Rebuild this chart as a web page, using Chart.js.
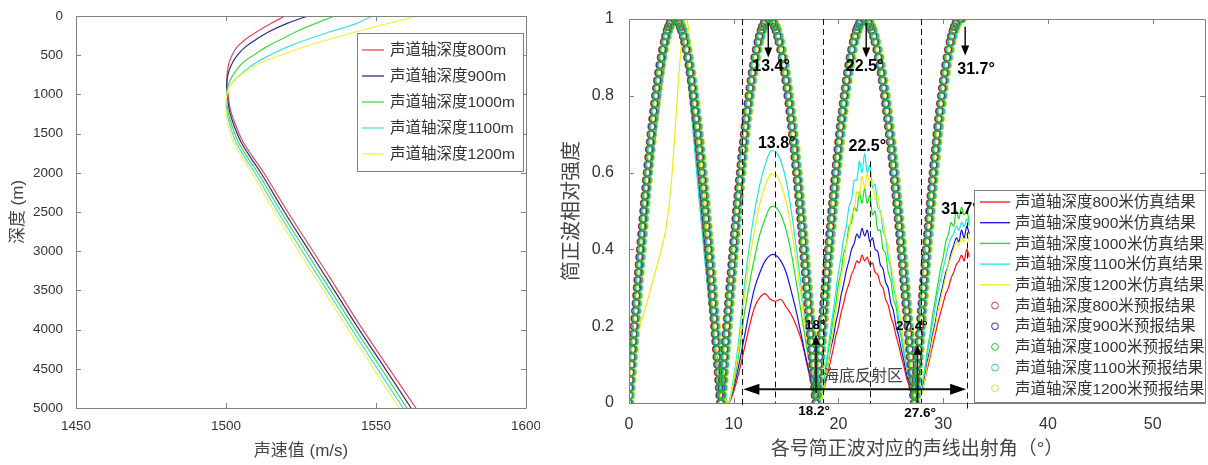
<!DOCTYPE html>
<html>
<head>
<meta charset="utf-8">
<script src="https://cdn.jsdelivr.net/npm/chart.js@4.4.1/dist/chart.umd.min.js"></script>
<style>
  html, body { margin: 0; padding: 0; background: #fff; }
  #wrap { position: relative; width: 1208px; height: 465px; overflow: hidden; }
  #profileChart { position: absolute; left: 0; top: 0; width: 540px; height: 465px; }
  #modeChart { position: absolute; left: 540px; top: 0; width: 668px; height: 465px; }
</style>
</head>
<body>
<div id="wrap">
  <canvas id="profileChart" width="540" height="465"></canvas>
  <canvas id="modeChart" width="668" height="465"></canvas>
</div>
<script>
// ---- left panel: sound speed profiles ----
const axisDepths = [800, 900, 1000, 1100, 1200];
const depthLevels = [0, 100, 200, 300, 400, 500, 600, 700, 800, 900, 1000, 1200, 1400, 1600, 1800, 2000, 2500, 3000, 3500, 4000, 4500, 5000];
const speed800 = [1519.7, 1514.8, 1510.3, 1506.4, 1503.6, 1502.0, 1501.0, 1500.5, 1500.3, 1500.4, 1500.7, 1501.5, 1503.3, 1505.6, 1509.0, 1512.6, 1520.6, 1529.0, 1537.3, 1545.6, 1554.4, 1563.3];
const speed900 = [1527.3, 1520.0, 1514.3, 1510.0, 1506.3, 1503.8, 1502.1, 1501.0, 1500.4, 1500.2, 1500.4, 1501.1, 1502.7, 1504.9, 1508.1, 1511.6, 1519.5, 1527.8, 1536.1, 1544.4, 1553.1, 1561.7];
const speed1000 = [1536.3, 1529.5, 1523.4, 1518.3, 1513.2, 1509.2, 1505.5, 1503.3, 1501.6, 1500.6, 1500.2, 1500.6, 1502.0, 1504.0, 1507.1, 1510.6, 1518.4, 1526.6, 1534.9, 1543.2, 1551.8, 1560.3];
const speed1100 = [1548.8, 1543.2, 1534.8, 1527.0, 1520.2, 1514.6, 1509.8, 1506.2, 1503.3, 1501.1, 1500.3, 1500.2, 1501.4, 1503.2, 1506.2, 1509.6, 1517.3, 1525.4, 1533.7, 1542.0, 1550.5, 1559.0];
const speed1200 = [1564.0, 1553.5, 1543.7, 1534.2, 1525.6, 1518.2, 1511.5, 1506.8, 1503.5, 1501.2, 1500.3, 1500.0, 1500.8, 1502.4, 1505.3, 1508.6, 1516.2, 1524.2, 1532.5, 1540.8, 1549.2, 1557.7];
const speedTicks = [1450, 1500, 1550, 1600];
const depthTicks = [0, 500, 1000, 1500, 2000, 2500, 3000, 3500, 4000, 4500, 5000];

// ---- right panel: normal mode intensity vs launch angle ----
const simAngles = [1, 1.5, 2, 2.5, 3, 3.5, 4, 4.5, 5, 5.5, 6, 6.5, 7, 7.5, 8, 8.5, 9, 9.5,
  10, 10.5, 11, 11.5, 12, 12.5, 13, 13.5, 14, 14.5, 15, 15.5, 16, 16.5, 17, 17.5, 18,
  18.25, 18.5, 18.75, 19, 19.25, 19.5, 19.75, 20, 20.25, 20.5, 20.75, 21, 21.25, 21.5, 21.75, 22, 22.25, 22.5, 22.75,
  23, 23.25, 23.5, 23.75, 24, 24.25, 24.5, 24.75, 25, 25.25, 25.5, 25.75, 26, 26.25, 26.5, 26.75, 27, 27.25, 27.5,
  27.75, 28, 28.25, 28.5, 28.75, 29, 29.25, 29.5, 29.75, 30, 30.25, 30.5, 30.75, 31, 31.25, 31.5, 31.75, 32, 32.25, 32.5];
const sim800 = [.3, .44, .57, .69, .8, .9, .97, 1, .97, .89, .77, .62, .47, .33, .2, .1, .03, 0,
  .03, .08, .14, .2, .25, .275, .285, .27, .265, .27, .25, .23, .2, .16, .1, .04, .01,
  0, .02, .05, .08, .11, .14, .175, .2, .235, .26, .29, .31, .335, .35, .37, .365, .385, .37, .38,
  .36, .365, .34, .335, .31, .3, .27, .255, .225, .205, .175, .15, .12, .095, .065, .045, .02, .01, 0,
  .01, .03, .06, .09, .12, .15, .18, .21, .235, .26, .285, .3, .325, .34, .36, .37, .385, .37, .4, .38];
const sim900 = [.3, .45, .58, .7, .81, .91, .97, 1, .97, .88, .76, .61, .46, .32, .19, .09, .03, 0,
  .04, .1, .17, .24, .3, .34, .37, .385, .385, .37, .34, .29, .235, .17, .105, .05, .01,
  0, .03, .06, .1, .14, .17, .21, .24, .28, .31, .345, .37, .4, .415, .44, .43, .455, .435, .45,
  .42, .43, .4, .395, .36, .35, .315, .3, .26, .24, .2, .175, .14, .11, .075, .05, .025, .01, 0,
  .01, .04, .07, .11, .14, .18, .21, .25, .28, .31, .34, .36, .39, .41, .43, .42, .45, .43, .46, .44];
const sim1000 = [.31, .46, .6, .72, .83, .92, .98, 1, .97, .88, .75, .6, .45, .31, .19, .09, .03, 0,
  .05, .13, .23, .31, .38, .44, .48, .51, .51, .49, .45, .39, .31, .225, .14, .07, .015,
  0, .04, .08, .13, .17, .22, .26, .31, .34, .39, .41, .46, .47, .51, .5, .55, .52, .56, .52,
  .54, .49, .5, .45, .45, .4, .39, .34, .32, .27, .25, .2, .17, .13, .1, .06, .035, .01, 0,
  .02, .05, .09, .14, .18, .23, .27, .31, .35, .38, .42, .44, .47, .46, .5, .48, .51, .49, .5, .47];
const sim1100 = [.32, .47, .61, .73, .84, .93, .98, 1, .96, .87, .74, .59, .44, .3, .18, .08, .02, 0,
  .07, .17, .3, .41, .5, .57, .62, .655, .655, .63, .58, .5, .4, .29, .18, .09, .02,
  0, .04, .09, .14, .19, .24, .29, .34, .38, .43, .46, .51, .53, .58, .58, .63, .6, .65, .6,
  .62, .56, .57, .51, .5, .45, .43, .38, .35, .3, .27, .22, .18, .14, .1, .065, .035, .01, 0,
  .02, .05, .09, .13, .17, .21, .25, .29, .32, .35, .38, .41, .43, .44, .46, .45, .47, .46, .48, .46];
const sim1200 = [.2, .24, .29, .34, .39, .45, .56, .75, .93, 1, .9, .79, .62, .42, .22, .08, .02, 0,
  .06, .15, .27, .37, .45, .52, .565, .595, .595, .57, .525, .455, .365, .265, .165, .08, .02,
  0, .02, .06, .1, .15, .19, .24, .28, .33, .36, .41, .44, .49, .5, .55, .54, .59, .56, .6,
  .56, .58, .53, .54, .49, .48, .43, .41, .36, .33, .28, .25, .2, .16, .12, .08, .045, .015, 0,
  .01, .03, .06, .1, .13, .17, .2, .24, .27, .3, .33, .36, .38, .4, .42, .41, .43, .42, .44, .42];

// forecast circles: angles read along each flank (rise / fall), levels shared by the flanks
const forecastAngles = [0,
  0.06, 0.11, 0.17, 0.22, 0.28, 0.34, 0.39, 0.45, 0.51, 0.56, 0.62, 0.68, 0.74, 0.8, 0.85, 0.91, 0.97, 1.03, 1.09, 1.15,
  1.21, 1.28, 1.34, 1.4, 1.47, 1.53, 1.6, 1.67, 1.73, 1.8, 1.87, 1.95, 2.02, 2.1, 2.17, 2.25, 2.33, 2.42, 2.51, 2.6,
  2.69, 2.79, 2.9, 3.01, 3.14, 3.27, 3.43, 3.56, 3.71, 3.84, 4.0, 4.4,
  4.8, 4.96, 5.09, 5.25, 5.38, 5.53, 5.66, 5.79, 5.9, 6.01, 6.11, 6.2, 6.29, 6.38, 6.47, 6.55, 6.63, 6.71, 6.78, 6.86,
  6.93, 7.0, 7.07, 7.14, 7.2, 7.27, 7.33, 7.4, 7.46, 7.52, 7.59, 7.65, 7.71, 7.77, 7.83, 7.89, 7.95, 8.0, 8.06, 8.12,
  8.18, 8.24, 8.29, 8.35, 8.41, 8.46, 8.52, 8.58, 8.63, 8.69, 8.74, 8.8,
  8.86, 8.92, 8.98, 9.04, 9.09, 9.15, 9.21, 9.27, 9.33, 9.39, 9.45, 9.51, 9.57, 9.63, 9.69, 9.75, 9.82, 9.88, 9.94, 10.01,
  10.07, 10.13, 10.2, 10.27, 10.33, 10.4, 10.47, 10.54, 10.61, 10.69, 10.76, 10.83, 10.91, 10.99, 11.07, 11.15, 11.24, 11.33, 11.42, 11.52,
  11.62, 11.72, 11.83, 11.95, 12.08, 12.22, 12.38, 12.52, 12.68, 12.81, 12.99, 13.4,
  13.8, 13.97, 14.1, 14.26, 14.4, 14.55, 14.69, 14.82, 14.93, 15.04, 15.15, 15.24, 15.34, 15.43, 15.51, 15.6, 15.68, 15.76, 15.84, 15.91,
  15.98, 16.06, 16.13, 16.2, 16.27, 16.33, 16.4, 16.47, 16.53, 16.6, 16.66, 16.72, 16.78, 16.85, 16.91, 16.97, 17.03, 17.09, 17.15, 17.21,
  17.27, 17.32, 17.38, 17.44, 17.5, 17.56, 17.61, 17.67, 17.73, 17.79, 17.84, 17.9,
  17.96, 18.02, 18.08, 18.14, 18.19, 18.25, 18.31, 18.37, 18.43, 18.49, 18.55, 18.61, 18.67, 18.73, 18.79, 18.85, 18.92, 18.98, 19.04, 19.11,
  19.17, 19.23, 19.3, 19.37, 19.43, 19.5, 19.57, 19.64, 19.71, 19.79, 19.86, 19.93, 20.01, 20.09, 20.17, 20.25, 20.34, 20.43, 20.52, 20.62,
  20.72, 20.82, 20.93, 21.05, 21.18, 21.32, 21.48, 21.62, 21.78, 21.91, 22.09, 22.5,
  22.93, 23.11, 23.25, 23.42, 23.56, 23.73, 23.88, 24.01, 24.14, 24.25, 24.36, 24.47, 24.57, 24.66, 24.76, 24.84, 24.93, 25.02, 25.1, 25.18,
  25.26, 25.33, 25.41, 25.48, 25.56, 25.63, 25.7, 25.77, 25.84, 25.91, 25.98, 26.04, 26.11, 26.18, 26.24, 26.3, 26.37, 26.43, 26.5, 26.56,
  26.62, 26.69, 26.75, 26.81, 26.87, 26.93, 26.99, 27.06, 27.12, 27.18, 27.24, 27.3,
  27.36, 27.41, 27.47, 27.52, 27.58, 27.64, 27.69, 27.75, 27.81, 27.86, 27.92, 27.98, 28.04, 28.1, 28.15, 28.21, 28.27, 28.33, 28.39, 28.45,
  28.51, 28.58, 28.64, 28.7, 28.77, 28.83, 28.9, 28.97, 29.03, 29.1, 29.17, 29.25, 29.32, 29.4, 29.47, 29.55, 29.63, 29.72, 29.81, 29.9,
  29.99, 30.09, 30.2, 30.31, 30.44, 30.57, 30.73, 30.86, 31.01, 31.14, 31.3, 31.7];
const riseLevels = [.02, .04, .06, .08, .1, .12, .14, .16, .18, .2, .22, .24, .26, .28, .3, .32, .34, .36, .38, .4,
  .42, .44, .46, .48, .5, .52, .54, .56, .58, .6, .62, .64, .66, .68, .7, .72, .74, .76, .78, .8,
  .82, .84, .86, .88, .9, .92, .94, .955, .97, .98, .99, 1];
const fallLevels = [.99, .98, .97, .955, .94, .92, .9, .88, .86, .84, .82, .8, .78, .76, .74, .72, .7, .68, .66, .64,
  .62, .6, .58, .56, .54, .52, .5, .48, .46, .44, .42, .4, .38, .36, .34, .32, .3, .28, .26, .24,
  .22, .2, .18, .16, .14, .12, .1, .08, .06, .04, .02, 0];
const forecastShift = [-0.12, -0.06, 0.02, 0.1, 0.18];
const angleTicks = [0, 10, 20, 30, 40, 50];
const levelTicks = [0, 0.2, 0.4, 0.6, 0.8, 1];

// annotation marks on the right panel (angle, level)
const dashMarks = [[10.75, 1, -0.012], [18.5, 1, 0], [27.85, 1, 0], [32.25, 0.47, -0.015], [13.92, 0.655, 0], [23.0, 0.63, 0]];
const downArrows = [[13.3, 0.99, 0.9], [22.65, 0.99, 0.9], [32.1, 0.98, 0.905]];
const upArrows = [[17.86, 0.026, 0.178], [27.55, 0.0, 0.152]];
const angleNotes = [
  ['13.4°', 13.56, 0.875, 16], ['22.5°', 22.5, 0.875, 16], ['31.7°', 33.14, 0.867, 16],
  ['13.8°', 14.1, 0.676, 16], ['22.5°', 22.75, 0.668, 16], ['31.7°', 31.6, 0.503, 16],
  ['18°', 17.77, 0.203, 13.5], ['27.4°', 27.0, 0.199, 13.5], ['18.2°', 17.67, -0.021, 13.5], ['27.6°', 27.8, -0.027, 13.5]
];
const seabedSpan = [10.92, 32.19, 0.036];

const profileColors = ['#e4485a', '#2b2b8c', '#4cd64c', '#45dede', '#f2f24a'];
const lineColors = ['#ff1010', '#1414e0', '#1ee01e', '#1ee6e6', '#ecec14'];
const circleColors = ['#d83838', '#30309c', '#30bc30', '#30c4c4', '#e0e040'];
const circleOrder = [3, 1, 0, 2, 4];
const frameColor = '#808080';
const latin = '"Liberation Sans", Arial, sans-serif';
const cjk = '"Liberation Sans", "Noto Sans CJK SC", sans-serif';

// MATLAB-style box with inward ticks on all four sides
function framePlugin(tickLen) {
  return {
    id: 'frame',
    afterDatasetsDraw(chart) {
      const {ctx, chartArea: a, scales: {x, y}} = chart;
      ctx.save();
      ctx.strokeStyle = frameColor;
      ctx.lineWidth = 1;
      ctx.beginPath();
      ctx.rect(Math.round(a.left) + 0.5, Math.round(a.top) + 0.5, Math.round(a.right - a.left), Math.round(a.bottom - a.top));
      x.ticks.forEach(t => {
        const px = Math.round(x.getPixelForValue(t.value)) + 0.5;
        ctx.moveTo(px, a.bottom); ctx.lineTo(px, a.bottom - tickLen);
        ctx.moveTo(px, a.top); ctx.lineTo(px, a.top + tickLen);
      });
      y.ticks.forEach(t => {
        const py = Math.round(y.getPixelForValue(t.value)) + 0.5;
        ctx.moveTo(a.left, py); ctx.lineTo(a.left + tickLen, py);
        ctx.moveTo(a.right, py); ctx.lineTo(a.right - tickLen, py);
      });
      ctx.stroke();
      ctx.restore();
    }
  };
}

// legend in a framed box, drawn at fixed spots
const boxLegend = {
  id: 'boxLegend',
  afterDraw(chart, args, o) {
    const ctx = chart.ctx;
    ctx.save();
    ctx.fillStyle = '#fff';
    ctx.fillRect(o.left, o.top, o.width, o.height);
    ctx.strokeStyle = frameColor;
    ctx.lineWidth = 1;
    ctx.strokeRect(o.left + 0.5, o.top + 0.5, o.width, o.height);
    ctx.font = o.font;
    ctx.textBaseline = 'middle';
    chart.data.datasets.forEach((ds, i) => {
      const yy = o.rowTop + i * o.rowStep;
      if (ds.showLine) {
        ctx.strokeStyle = ds.borderColor;
        ctx.lineWidth = 1.3;
        ctx.beginPath();
        ctx.moveTo(o.sampleX0, yy); ctx.lineTo(o.sampleX1, yy);
        ctx.stroke();
      } else {
        ctx.strokeStyle = ds.pointBorderColor;
        ctx.lineWidth = 1;
        ctx.beginPath();
        ctx.arc((o.sampleX0 + o.sampleX1) / 2, yy, ds.pointRadius, 0, Math.PI * 2);
        ctx.stroke();
      }
      ctx.fillStyle = '#333';
      ctx.fillText(ds.label, o.textX, yy + 1);
    });
    ctx.restore();
  }
};

function arrowHead(ctx, x, y, dx, dy, len, half) {
  ctx.beginPath();
  ctx.moveTo(x, y);
  ctx.lineTo(x - dx * len - dy * half, y - dy * len + dx * half);
  ctx.lineTo(x - dx * len + dy * half, y - dy * len - dx * half);
  ctx.closePath();
  ctx.fill();
}

const notesPlugin = {
  id: 'notes',
  afterDatasetsDraw(chart) {
    const {ctx, scales: {x, y}} = chart;
    ctx.save();
    ctx.strokeStyle = '#111';
    ctx.fillStyle = '#000';
    ctx.lineWidth = 1;
    ctx.setLineDash([6, 4]);
    dashMarks.forEach(([a, top, bottom]) => {
      const px = Math.round(x.getPixelForValue(a)) + 0.5;
      ctx.beginPath();
      ctx.moveTo(px, y.getPixelForValue(top));
      ctx.lineTo(px, y.getPixelForValue(bottom));
      ctx.stroke();
    });
    ctx.setLineDash([]);
    ctx.lineWidth = 1.5;
    downArrows.concat(upArrows).forEach(([a, from, to]) => {
      const px = x.getPixelForValue(a);
      const p0 = y.getPixelForValue(from);
      const p1 = y.getPixelForValue(to);
      const dir = p1 > p0 ? 1 : -1;
      ctx.beginPath();
      ctx.moveTo(px, p0); ctx.lineTo(px, p1 - dir * 8);
      ctx.stroke();
      arrowHead(ctx, px, p1, 0, dir, 10, 4);
    });
    // seabed reflection span
    const [s0, s1, sl] = seabedSpan;
    const xa = x.getPixelForValue(s0), xb = x.getPixelForValue(s1), ys = y.getPixelForValue(sl);
    ctx.lineWidth = 2;
    ctx.beginPath();
    ctx.moveTo(xa + 12, ys); ctx.lineTo(xb - 12, ys);
    ctx.stroke();
    arrowHead(ctx, xa, ys, -1, 0, 16, 5.5);
    arrowHead(ctx, xb, ys, 1, 0, 16, 5.5);
    ctx.textAlign = 'center';
    ctx.textBaseline = 'middle';
    ctx.fillStyle = '#444';
    ctx.font = '16px "Noto Sans CJK SC", sans-serif';
    ctx.fillText('海底反射区', x.getPixelForValue(22.35), y.getPixelForValue(0.073));
    ctx.fillStyle = '#000';
    angleNotes.forEach(([txt, a, lv, size]) => {
      ctx.font = 'bold ' + size + 'px ' + latin;
      ctx.fillText(txt, x.getPixelForValue(a), y.getPixelForValue(lv));
    });
    ctx.restore();
  }
};

const ticksFrom = list => scale => { scale.ticks = list.map(v => ({value: v})); };

// ---- left chart ----
const profiles = [speed800, speed900, speed1000, speed1100, speed1200];
new Chart(document.getElementById('profileChart'), {
  type: 'scatter',
  data: {
    datasets: profiles.map((vals, k) => ({
      label: '声道轴深度' + axisDepths[k] + 'm',
      data: depthLevels.map((d, i) => ({x: vals[i], y: d})),
      showLine: true,
      borderColor: profileColors[k],
      borderWidth: 1.2,
      pointRadius: 0,
      tension: 0.4,
      order: 4 - k
    }))
  },
  options: {
    responsive: false,
    animation: false,
    events: [],
    layout: {padding: {top: 16, right: 14, left: 0, bottom: 0}, autoPadding: false},
    plugins: {
      legend: {display: false},
      tooltip: {enabled: false},
      boxLegend: {left: 357, top: 33, width: 166, height: 138, rowTop: 50, rowStep: 26,
        sampleX0: 362, sampleX1: 384, textX: 390, font: '15.5px ' + cjk}
    },
    scales: {
      x: {
        type: 'linear', min: 1450, max: 1600,
        afterBuildTicks: ticksFrom(speedTicks),
        afterFit: s => { s.height = 57; s.paddingLeft = 0; s.paddingRight = 0; },
        grid: {display: false}, border: {display: false},
        ticks: {color: '#333', font: {family: latin, size: 13.5}, padding: 2, maxRotation: 0, autoSkip: false, callback: v => String(v)},
        title: {display: true, text: '声速值 (m/s)', color: '#444', font: {family: cjk, size: 17}, padding: {top: 0, bottom: 3}}
      },
      y: {
        type: 'linear', min: 0, max: 5000, reverse: true,
        afterBuildTicks: ticksFrom(depthTicks),
        afterFit: s => { s.width = 76; s.paddingTop = 0; s.paddingBottom = 0; },
        grid: {display: false}, border: {display: false},
        ticks: {color: '#333', font: {family: latin, size: 13.5}, padding: 5, autoSkip: false, callback: v => String(v)},
        title: {display: true, text: '深度 (m)', color: '#444', font: {family: cjk, size: 17}, padding: {top: 8, bottom: 0}}
      }
    }
  },
  plugins: [framePlugin(5), boxLegend]
});

// ---- right chart ----
const simSeries = [sim800, sim900, sim1000, sim1100, sim1200];
const forecastIntensity = [0].concat(riseLevels, fallLevels, riseLevels, fallLevels, riseLevels, fallLevels, riseLevels);
const simSets = simSeries.map((vals, k) => ({
  label: '声道轴深度' + axisDepths[k] + '米仿真结果',
  data: simAngles.map((a, i) => ({x: a, y: vals[i]})),
  showLine: true,
  borderColor: lineColors[k],
  borderWidth: 1.2,
  pointRadius: 0,
  tension: 0.3,
  order: 9 - k
}));
const forecastSets = axisDepths.map((d, k) => ({
  label: '声道轴深度' + d + '米预报结果',
  data: forecastAngles.map((a, i) => ({x: a + forecastShift[k], y: forecastIntensity[i]})),
  showLine: false,
  pointRadius: 3.4,
  pointBorderWidth: 1.1,
  pointBorderColor: circleColors[k],
  pointBackgroundColor: 'rgba(0,0,0,0)',
  order: circleOrder[k]
}));

new Chart(document.getElementById('modeChart'), {
  type: 'scatter',
  data: {datasets: simSets.concat(forecastSets)},
  options: {
    responsive: false,
    animation: false,
    events: [],
    layout: {padding: {top: 19, right: 3, left: 0, bottom: 0}, autoPadding: false},
    plugins: {
      legend: {display: false},
      tooltip: {enabled: false},
      boxLegend: {left: 434, top: 190, width: 231, height: 212, rowTop: 202, rowStep: 20.7,
        sampleX0: 440, sampleX1: 470, textX: 475, font: '15.5px ' + cjk}
    },
    scales: {
      x: {
        type: 'linear', min: 0, max: 55,
        afterBuildTicks: ticksFrom(angleTicks),
        afterFit: s => { s.height = 62; s.paddingLeft = 0; s.paddingRight = 0; },
        grid: {display: false}, border: {display: false},
        ticks: {color: '#333', font: {family: latin, size: 16}, padding: 4, maxRotation: 0, autoSkip: false, callback: v => String(v)},
        title: {display: true, text: '各号简正波对应的声线出射角（°）', color: '#444', font: {family: cjk, size: 19}, padding: {top: 0, bottom: 4}}
      },
      y: {
        type: 'linear', min: 0, max: 1,
        afterBuildTicks: ticksFrom(levelTicks),
        afterFit: s => { s.width = 89; s.paddingTop = 0; s.paddingBottom = 0; },
        grid: {display: false}, border: {display: false},
        ticks: {color: '#333', font: {family: latin, size: 16}, padding: 7, autoSkip: false, callback: v => String(v)},
        title: {display: true, text: '简正波相对强度', color: '#444', font: {family: cjk, size: 20}, padding: {top: 20, bottom: 0}}
      }
    }
  },
  plugins: [framePlugin(5), notesPlugin, boxLegend]
});
</script>
</body>
</html>
